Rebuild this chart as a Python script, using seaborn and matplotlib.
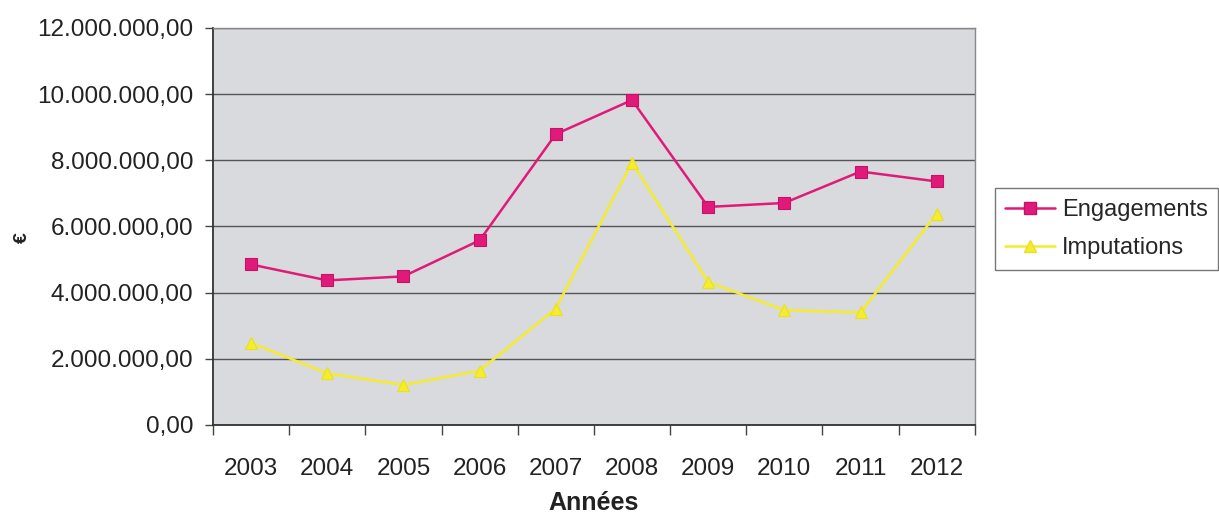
import matplotlib
matplotlib.use("Agg")
import matplotlib.pyplot as plt
import matplotlib.ticker as mticker
import numpy as np
import pandas as pd
import seaborn as sns

# values
annees = ["2003", "2004", "2005", "2006", "2007", "2008", "2009", "2010", "2011", "2012"]
engagements = [4850000, 4370000, 4490000, 5580000, 8790000, 9820000, 6590000, 6710000, 7660000, 7360000]
imputations = [2480000, 1560000, 1210000, 1640000, 3520000, 7930000, 4320000, 3470000, 3400000, 6390000]
y_ticks = [0, 2000000, 4000000, 6000000, 8000000, 10000000, 12000000]


def fmt_euro(v, pos=None):
    # french style: 12.000.000,00
    s = f"{v:,.2f}"
    return s.replace(",", " ").replace(".", ",").replace(" ", ".")


sns.set_theme(style="white")
plt.rcParams["font.family"] = ["Liberation Sans", "DejaVu Sans"]

df = pd.DataFrame({
    "pos": list(range(len(annees))) * 2,
    "valeur": engagements + imputations,
    "serie": ["Engagements"] * len(annees) + ["Imputations"] * len(annees),
})

fig = plt.figure(figsize=(12.19, 5.17), dpi=100)
ax = fig.add_axes([0.1747, 0.178, 0.625, 0.768])
ax.set_facecolor("#d9dade")

palette = {"Engagements": "#e01a78", "Imputations": "#f4ec2c"}
markers = {"Engagements": "s", "Imputations": "^"}
sns.lineplot(data=df, x="pos", y="valeur", hue="serie", style="serie",
             palette=palette, markers=markers, dashes=False, markersize=8,
             linewidth=1.8, markeredgewidth=0.8, ax=ax, legend=False, zorder=3)
for line, ec in zip(ax.lines, ["#c8106a", "#e8e020"]):
    line.set_markeredgecolor(ec)

ax.set_ylim(0, 12000000)
ax.set_xlim(-0.5, len(annees) - 0.5)
ax.set_yticks(y_ticks)
ax.yaxis.set_major_formatter(mticker.FuncFormatter(fmt_euro))
ax.yaxis.grid(True, color="#555555", linewidth=1.0)
ax.set_axisbelow(True)

# category axis: ticks between categories, labels in the middle
ax.set_xticks(np.arange(-0.5, len(annees), 1.0))
ax.set_xticklabels([])
ax.set_xticks(np.arange(len(annees)), minor=True)
ax.set_xticklabels(annees, minor=True)
ax.tick_params(axis="x", which="major", direction="out", length=7, width=1, color="#444444", bottom=True)
ax.tick_params(axis="x", which="minor", length=0, pad=24, labelsize=17.5, colors="#222222")
ax.tick_params(axis="y", direction="out", length=6, width=1, color="#444444", left=True, pad=8,
               labelsize=17.5, labelcolor="#222222")

for side in ["left", "bottom"]:
    ax.spines[side].set_color("#333333")
    ax.spines[side].set_linewidth(1.3)
for side in ["top", "right"]:
    ax.spines[side].set_color("#888888")
    ax.spines[side].set_linewidth(1.0)

ax.set_xlabel("Années", fontsize=18, fontweight="bold", color="#222222", labelpad=8)
ax.set_ylabel("")
fig.text(0.018, 0.54, "€", rotation=90, fontsize=14, fontweight="bold",
         color="#222222", ha="center", va="center")

handles = [
    plt.Line2D([], [], color=palette["Engagements"], marker="s", markersize=8,
               markeredgecolor="#c8106a", linewidth=1.8),
    plt.Line2D([], [], color=palette["Imputations"], marker="^", markersize=9,
               markeredgecolor="#e8e020", linewidth=1.8),
]
leg = fig.legend(handles, ["Engagements", "Imputations"], loc="upper left",
                 bbox_to_anchor=(0.816, 0.636), fontsize=17, frameon=True,
                 fancybox=False, edgecolor="#555555", borderpad=0.45,
                 handlelength=2.1, handletextpad=0.3, labelspacing=0.7,
                 borderaxespad=0)
leg.get_frame().set_linewidth(1.0)

fig.savefig("out.png", dpi=100, facecolor="white")
